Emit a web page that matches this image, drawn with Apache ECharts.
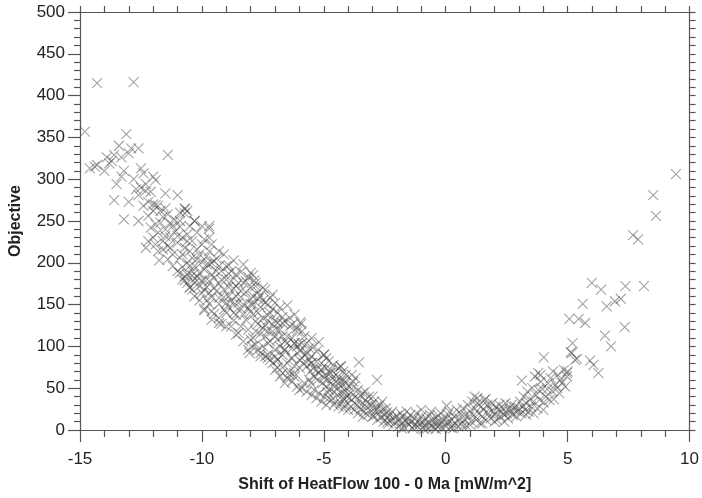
<!DOCTYPE html>
<html>
<head>
<meta charset="utf-8">
<script src="https://cdn.jsdelivr.net/npm/echarts@6/dist/echarts.min.js"></script>
<style>html,body{margin:0;padding:0;background:#fff}#c{width:702px;height:498px}</style>
</head>
<body>
<div id="c"></div>
<script>
// Shift of heat flow (x) vs objective (y), grouped by x range
const ptsFarLeft = [[-14.8,357],[-14.3,415],[-12.8,416],[-13.1,354],[-11.4,329],[-13.4,340],[-12.9,337],[-12.6,337],[-13.0,331],[-13.6,329],[-13.3,326],[-13.9,326],[-13.8,319],[-14.3,317],[-14.4,315],[-14.0,310],[-12.5,313],[-12.4,307],[-12.0,303],[-13.3,303],[-13.5,294],[-11.9,299],[-12.3,294],[-12.7,288],[-12.5,290],[-12.3,286],[-11.5,283],[-11.0,281],[-13.6,275],[-13.0,273],[-12.2,273],[-12.0,270],[-11.8,268],[-10.7,264],[-10.9,260],[-10.6,262],[-10.3,250],[-9.7,244],[-13.2,252],[-12.6,250],[-11.9,246],[-14.6,313],[-13.7,322],[-13.2,310],[-12.8,300],[-12.6,281],[-12.1,285],[-12.4,268],[-12.2,256]];
const ptsLeft = [[-11.9,269],[-11.5,265],[-10.7,265],[-10.7,259],[-10.3,250],[-9.7,241],[-9.9,228],[-10.6,234],[-11.3,230],[-11.0,224],[-10.7,218],[-11.4,220],[-11.8,214],[-11.2,210],[-10.5,214],[-10.1,210],[-9.7,214],[-9.5,202],[-11.7,262],[-11.6,255],[-11.3,248],[-11.1,251],[-10.9,243],[-11.5,240],[-11.8,236],[-12.0,230],[-11.6,226],[-11.1,238],[-10.8,230],[-10.4,226],[-10.2,236],[-10.0,244],[-10.5,244],[-10.9,206],[-10.6,200],[-10.3,196],[-10.0,201],[-10.8,195],[-11.0,190],[-10.4,190],[-10.2,204],[-9.9,192],[-9.6,186],[-9.8,198],[-10.6,186],[-10.9,188],[-11.2,196],[-10.5,170],[-10.0,164],[-10.3,176],[-9.7,178],[-10.8,180],[-10.1,155],[-9.9,145],[-9.9,143],[-9.6,132],[-10.4,168],[-10.7,184],[-11.4,204],[-11.6,216],[-12.1,242],[-11.9,222],[-11.3,218],[-10.4,185],[-10.2,183],[-10.0,179],[-10.7,179],[-10.5,171],[-10.3,181],[-10.1,188],[-10.6,176],[-12.3,218],[-11.75,203],[-12.2,226],[-11.5,232]];
const ptsMidLeft = [[-9.8,171],[-9.3,175],[-8.9,171],[-8.7,169],[-8.4,159],[-9.1,159],[-9.6,159],[-9.3,151],[-8.9,147],[-8.4,145],[-9.2,127],[-9.5,139],[-9.7,151],[-8.9,197],[-8.9,187],[-8.4,189],[-8.1,183],[-8.7,131],[-8.5,116],[-8.1,120],[-9.9,168],[-9.5,182],[-9.2,190],[-9.0,180],[-8.8,178],[-8.6,186],[-9.4,166],[-9.1,168],[-8.6,160],[-8.2,165],[-8.0,170],[-8.3,176],[-9.7,198],[-9.4,205],[-9.1,210],[-9.3,196],[-8.8,155],[-9.0,140],[-8.6,138],[-8.3,150],[-8.0,142],[-8.2,132],[-9.3,134],[-9.6,142],[-9.8,155],[-9.0,152],[-8.7,150],[-8.5,176],[-8.0,156],[-8.8,124],[-8.4,124],[-8.0,108],[-8.1,96],[-8.05,92],[-8.3,106],[-8.6,114],[-9.0,124],[-9.3,128],[-9.7,230],[-9.6,222],[-9.3,214],[-8.7,203],[-8.3,198]];
const ptsMid = [[-8.0,151],[-7.6,147],[-7.3,131],[-7.7,127],[-6.5,149],[-6.9,120],[-7.4,112],[-6.6,106],[-7.3,104],[-7.3,137],[-7.0,131],[-7.2,106],[-6.8,120],[-6.5,112],[-6.2,104],[-6.6,96],[-6.9,84],[-6.3,86],[-7.9,138],[-7.8,130],[-7.5,122],[-7.6,115],[-7.9,110],[-7.8,118],[-7.4,125],[-7.1,118],[-7.0,112],[-7.2,140],[-6.9,108],[-6.7,128],[-6.4,124],[-6.1,118],[-6.3,98],[-6.0,95],[-6.8,100],[-7.0,96],[-7.5,100],[-7.7,96],[-7.3,90],[-7.8,102],[-7.9,160],[-7.7,157],[-7.4,152],[-7.1,162],[-7.8,176],[-7.5,170],[-6.7,90],[-6.5,80],[-6.2,76],[-6.0,84],[-6.4,70],[-6.7,75],[-7.1,80],[-7.3,86],[-7.6,88],[-7.95,100],[-7.9,185],[-7.85,179],[-7.8,172],[-7.7,165],[-7.6,160],[-7.5,155],[-7.4,168],[-7.3,150],[-7.2,158],[-7.1,145],[-7.0,152],[-6.9,140],[-6.8,146],[-6.7,135],[-6.6,130],[-6.4,134],[-6.3,126],[-6.2,138],[-6.1,122],[-7.6,92],[-7.4,88],[-7.2,84],[-7.0,88],[-6.9,75],[-6.7,68],[-6.5,62],[-6.3,58],[-6.1,52],[-6.0,48],[-6.6,56],[-6.8,64],[-7.0,72],[-6.4,66],[-6.2,64]];
const ptsMidRight = [[-5.96,129],[-5.93,127],[-5.5,110],[-5.9,118],[-5.8,112],[-5.7,104],[-5.6,98],[-5.4,100],[-5.3,94],[-5.2,105],[-5.0,90],[-4.9,86],[-4.8,82],[-4.6,78],[-4.4,74],[-4.3,76],[-4.2,70],[-4.1,66],[-5.95,95],[-5.9,86],[-5.85,80],[-5.75,90],[-5.7,76],[-5.6,84],[-5.55,70],[-5.5,80],[-5.45,74],[-5.4,64],[-5.3,72],[-5.25,60],[-5.2,68],[-5.1,72],[-5.05,56],[-5.0,62],[-4.95,66],[-4.9,52],[-4.85,60],[-4.8,48],[-4.75,68],[-4.7,56],[-4.65,62],[-4.6,46],[-4.55,52],[-4.5,58],[-4.45,42],[-4.4,50],[-4.35,62],[-4.3,44],[-4.25,54],[-4.2,38],[-4.15,48],[-4.1,56],[-4.05,40],[-5.9,50],[-5.8,56],[-5.7,46],[-5.6,60],[-5.5,42],[-5.4,48],[-5.3,38],[-5.2,44],[-5.1,34],[-5.0,40],[-4.9,30],[-4.8,38],[-4.7,36],[-4.6,30],[-4.5,34],[-4.4,28],[-4.3,32],[-4.2,26],[-4.1,30],[-4.0,24],[-6.0,102],[-5.98,74],[-5.53,80],[-5.12,72],[-4.72,68],[-4.31,76],[-4.17,60],[-5.53,56],[-4.85,45],[-4.17,37],[-4.99,90],[-6.21,68],[-6.21,104],[-6.34,86],[-6.61,96],[-6.88,84]];
const ptsNearMin = [[-3.56,81],[-2.82,60],[-3.95,52],[-3.9,44],[-3.85,36],[-3.8,58],[-3.77,52],[-3.7,40],[-3.65,30],[-3.6,48],[-3.55,36],[-3.5,41],[-3.5,25],[-3.45,30],[-3.4,44],[-3.35,22],[-3.3,36],[-3.25,28],[-3.22,33],[-3.2,18],[-3.15,40],[-3.1,24],[-3.05,30],[-3.0,16],[-2.96,17],[-2.95,34],[-2.9,22],[-2.85,28],[-2.82,25],[-2.8,12],[-2.75,20],[-2.7,30],[-2.65,15],[-2.6,24],[-2.55,10],[-2.5,18],[-2.45,26],[-2.41,21],[-2.41,9],[-2.4,14],[-2.35,8],[-2.3,18],[-2.25,12],[-2.2,22],[-2.15,6],[-2.1,15],[-2.05,10],[-2.0,17],[-3.9,28],[-3.75,24],[-3.6,20],[-3.4,16],[-3.3,46],[-3.0,40],[-2.6,34],[-3.7,62],[-3.85,66],[-3.95,38]];
const ptsMin = [[-1.95,4],[-1.9,12],[-1.85,20],[-1.8,8],[-1.75,16],[-1.7,3],[-1.65,11],[-1.6,9],[-1.6,22],[-1.55,14],[-1.5,6],[-1.45,18],[-1.4,10],[-1.35,2],[-1.3,14],[-1.25,7],[-1.2,20],[-1.15,4],[-1.1,12],[-1.05,8],[-1.0,16],[-0.95,3],[-0.9,10],[-0.85,6],[-0.8,14],[-0.75,2],[-0.7,9],[-0.65,18],[-0.6,5],[-0.55,12],[-0.5,3],[-0.45,8],[-0.4,15],[-0.35,4],[-0.3,10],[-0.25,6],[-0.2,20],[-0.15,2],[-0.1,12],[-0.05,7],[0.0,4],[0.04,29],[0.05,14],[0.1,9],[0.15,22],[0.2,3],[0.25,12],[0.3,6],[0.35,16],[0.4,8],[0.45,24],[0.5,4],[-1.0,24],[-0.6,22],[-0.3,17],[0.1,18],[-1.8,2],[-1.3,5],[-0.9,1],[-0.4,1],[0.3,2]];
const ptsRight = [[0.55,14],[0.6,20],[0.65,8],[0.7,26],[0.75,12],[0.8,18],[0.85,5],[0.9,30],[0.95,16],[1.0,22],[1.05,10],[1.1,34],[1.15,18],[1.18,40],[1.2,26],[1.25,12],[1.3,32],[1.35,20],[1.4,8],[1.45,28],[1.5,16],[1.55,24],[1.59,36],[1.63,37],[1.65,12],[1.7,30],[1.75,20],[1.8,26],[1.85,14],[1.9,32],[1.95,22],[2.0,18],[2.05,28],[2.1,12],[2.15,24],[2.2,30],[2.25,16],[2.3,22],[2.35,26],[2.4,18],[2.45,32],[2.5,20],[2.55,14],[2.6,26],[2.65,22],[2.7,30],[2.75,18],[2.8,24],[2.85,28],[2.9,16],[2.95,22],[1.0,6],[1.5,8],[2.0,10],[0.7,4],[1.3,38],[2.4,10],[3.0,26],[3.05,34],[3.1,20],[3.12,59],[3.15,28],[3.2,40],[3.25,24],[3.3,32],[3.35,46],[3.4,22],[3.45,36],[3.5,28],[3.55,50],[3.6,34],[3.66,64],[3.7,42],[3.75,26],[3.79,68],[3.8,48],[3.85,36],[3.9,58],[3.96,49],[4.02,87],[4.02,33],[4.1,40],[4.16,48.5],[4.2,56],[4.25,36],[4.3,62],[4.36,46.5],[4.43,37],[4.5,54],[4.57,50],[4.6,66],[4.65,44],[4.7,60],[4.77,56],[4.85,72],[4.9,52],[4.97,64],[5.0,70],[3.89,66],[4.4,70],[3.3,18],[3.6,20],[4.0,24]];
const ptsFarRight = [[5.07,133],[5.13,93],[5.38,85],[5.45,133],[5.62,151],[5.72,128],[5.92,83],[5.99,176],[6.06,78],[6.26,68],[6.37,168],[6.53,113],[6.6,148],[6.78,100],[6.94,154],[7.18,157],[7.34,123],[7.37,172],[7.68,233],[7.89,228],[8.13,172],[8.51,281],[8.62,256],[9.44,306],[5.2,104],[5.3,84],[5.17,92],[4.97,68]];
// extra points filling the dense part of the band (left branch)
const ptsDense = [[-12.0,262],[-11.7,248],[-11.4,258],[-11.2,244],[-11.0,232],[-10.9,250],[-10.6,226],[-10.4,206],[-10.2,216],[-10.0,222],[-9.8,208],[-9.6,200],[-9.4,190],[-9.2,180],[-9.0,196],[-8.8,190],[-8.6,172],[-8.4,166],[-8.2,178],[-8.0,188],[-10.8,210],[-10.5,196],[-10.3,160],[-10.1,172],[-9.9,180],[-9.7,164],[-9.5,170],[-9.3,158],[-9.1,144],[-8.9,160],[-8.7,140],[-8.5,152],[-8.3,138],[-8.1,146],[-7.9,150],[-7.7,140],[-7.5,134],[-7.3,118],[-7.1,126],[-6.9,128],[-6.7,112],[-6.5,104],[-6.3,110],[-6.1,100],[-5.9,104],[-5.7,92],[-5.5,88],[-5.3,82],[-5.1,80],[-4.9,74],[-4.7,72],[-4.5,66],[-4.3,58],[-4.1,46]];

const xTicks = [-15, -10, -5, 0, 5, 10];
const yTicks = [0, 50, 100, 150, 200, 250, 300, 350, 400, 450, 500];

const allPts = [].concat(ptsFarLeft, ptsLeft, ptsMidLeft, ptsMid, ptsMidRight, ptsNearMin, ptsMin, ptsRight, ptsFarRight, ptsDense);

const chart = echarts.init(document.getElementById('c'), null, {renderer: 'canvas'});
const axisColor = '#555';
const font = 'Liberation Sans, Arial, Helvetica, sans-serif';
chart.setOption({
  animation: false,
  backgroundColor: '#fff',
  grid: {left: 77, right: 10, top: 12, bottom: 64, containLabel: false},
  xAxis: [{
    type: 'value', min: xTicks[0], max: xTicks[xTicks.length-1], interval: 5,
    position: 'bottom',
    name: 'Shift of HeatFlow 100 - 0 Ma [mW/m^2]', nameLocation: 'middle', nameGap: 47,
    nameTextStyle: {fontFamily: font, fontWeight: 'bold', fontSize: 16, color: '#222'},
    axisLine: {show: true, onZero: false, lineStyle: {color: axisColor, width: 1.2}},
    axisTick: {show: true, inside: false, length: 12, lineStyle: {color: axisColor, width: 1.2}},
    minorTick: {show: true, splitNumber: 5, length: 7, lineStyle: {color: axisColor, width: 1.2}},
    splitLine: {show: false},
    axisLabel: {fontFamily: font, fontSize: 17, color: '#222', margin: 21}
  }, {
    type: 'value', min: -15, max: 10, interval: 1, position: 'top',
    axisLine: {show: true, onZero: false, lineStyle: {color: axisColor, width: 1.2}},
    axisTick: {show: true, inside: false, length: 6, lineStyle: {color: axisColor, width: 1.2}},
    axisLabel: {show: false}, splitLine: {show: false}
  }],
  yAxis: [{
    type: 'value', min: yTicks[0], max: yTicks[yTicks.length-1], interval: 50,
    position: 'left',
    name: 'Objective', nameLocation: 'middle', nameGap: 56,
    nameTextStyle: {fontFamily: font, fontWeight: 'bold', fontSize: 16, color: '#222'},
    axisLine: {show: true, onZero: false, lineStyle: {color: axisColor, width: 1.2}},
    axisTick: {show: true, inside: false, length: 12, lineStyle: {color: axisColor, width: 1.2}},
    minorTick: {show: true, splitNumber: 5, length: 6, lineStyle: {color: axisColor, width: 1.2}},
    splitLine: {show: false},
    axisLabel: {fontFamily: font, fontSize: 17, color: '#222', margin: 15}
  }, {
    type: 'value', min: 0, max: 500, interval: 10, position: 'right',
    axisLine: {show: true, onZero: false, lineStyle: {color: axisColor, width: 1.2}},
    axisTick: {show: true, inside: false, length: 6, lineStyle: {color: axisColor, width: 1.2}},
    axisLabel: {show: false}, splitLine: {show: false}
  }],
  series: [{
    type: 'scatter',
    xAxisIndex: 0, yAxisIndex: 0,
    data: allPts,
    symbol: 'path://M0,0L10,10M10,0L0,10',
    symbolSize: 10,
    itemStyle: {color: 'none', borderColor: 'rgba(70,70,70,0.62)', borderWidth: 1.1},
    emphasis: {disabled: true},
    silent: true
  }]
});
</script>
</body>
</html>
